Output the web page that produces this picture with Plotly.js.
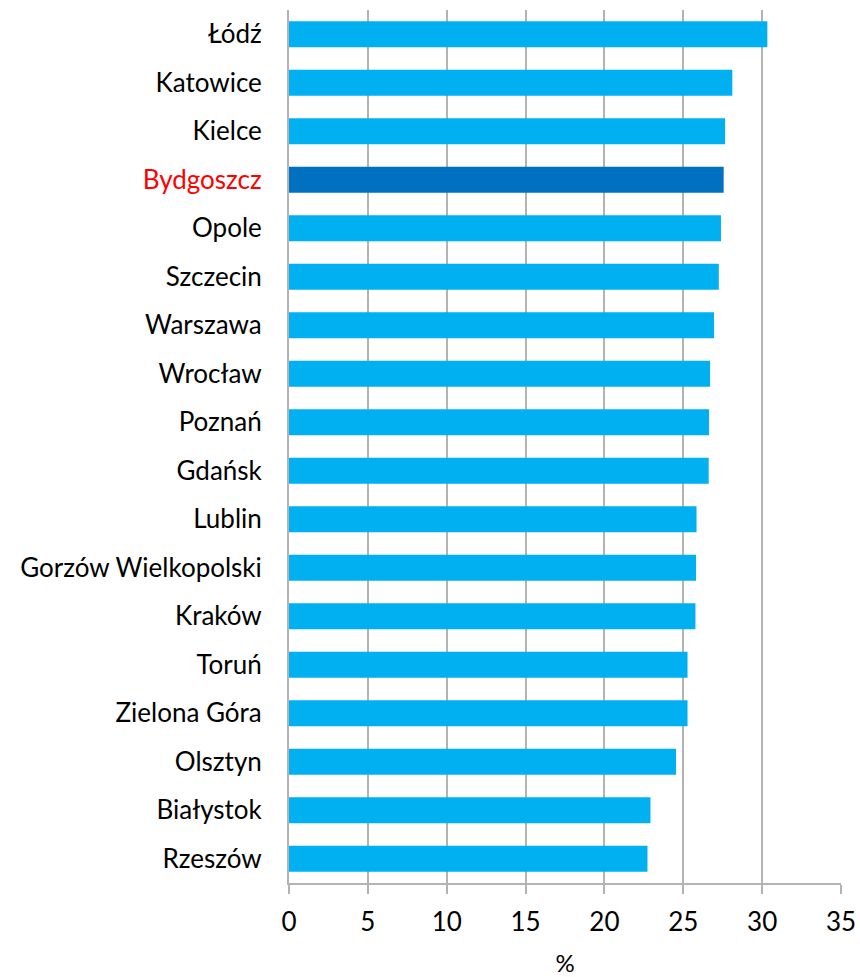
<!DOCTYPE html>
<html>
<head>
<meta charset="utf-8">
<script src="https://cdn.plot.ly/plotly-3.0.1.min.js"></script>
<style>
  body { margin: 0; background: #fff; }
  #chart { width: 860px; height: 977px; }
</style>
</head>
<body>
<div id="chart"></div>
<script>
    // cities top to bottom, value in %
    var cities = ['Łódź', 'Katowice', 'Kielce', 'Bydgoszcz', 'Opole', 'Szczecin', 'Warszawa', 'Wrocław',
        'Poznań', 'Gdańsk', 'Lublin', 'Gorzów Wielkopolski', 'Kraków', 'Toruń', 'Zielona Góra',
        'Olsztyn', 'Białystok', 'Rzeszów'];
    var values = [30.33, 28.11, 27.65, 27.56, 27.39, 27.25, 26.95, 26.70,
        26.63, 26.61, 25.84, 25.81, 25.77, 25.27, 25.27,
        24.54, 22.92, 22.73];
    var highlight = 'Bydgoszcz';
    var xTicks = [0, 5, 10, 15, 20, 25, 30, 35];

    var barColors = cities.map(function(c){ return c === highlight ? '#0070C0' : '#00B0F0'; });
    var tickText = cities.map(function(c){
        return c === highlight ? '<span style="color:#FF0000">' + c + '</span>' : c;
    });

    var CHART = document.getElementById('chart');

    var barTrace = {
        type: 'bar',
        orientation: 'h',
        x: values,
        y: cities,
        width: 0.54,
        marker: {
            color: barColors,
        },
        hoverinfo: 'x+y',
    };

    var layout = {
        width: 860,
        height: 977,
        showlegend: false,
        plot_bgcolor: '#ffffff',
        paper_bgcolor: '#ffffff',
        font: {
            family: 'Lato, "Open Sans", sans-serif',
            size: 26,
            color: '#000000',
        },
        margin: {
            "l": 289,
            "r": 19,
            "t": 10,
            "b": 94,
        },
        xaxis: {
            range: [0, 35],
            tickvals: xTicks,
            showgrid: true,
            gridcolor: '#b3b3b3',
            gridwidth: 2,
            zeroline: false,
            showline: true,
            linecolor: '#b3b3b3',
            linewidth: 2,
            ticks: 'outside',
            ticklen: 9,
            tickwidth: 2,
            tickcolor: '#b3b3b3',
            ticklabelstandoff: 6,
            title: {
                text: '%',
                standoff: 26,
                font: { size: 24 },
            },
        },
        yaxis: {
            autorange: 'reversed',
            tickvals: cities,
            ticktext: tickText,
            showgrid: false,
            showline: true,
            linecolor: '#b3b3b3',
            linewidth: 2,
            ticks: '',
            ticklabelstandoff: 20,
        },
    };

    var config = {
        displayModeBar: false,
        staticPlot: true,
    };

    Plotly.newPlot(CHART, [barTrace], layout, config);
</script>
</body>
</html>
